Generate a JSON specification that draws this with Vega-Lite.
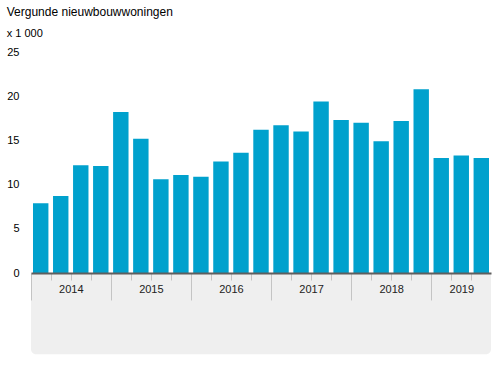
{
  "$schema": "https://vega.github.io/schema/vega-lite/v6.json",
  "width": 460,
  "height": 221,
  "padding": {"left": 6, "top": 6, "right": 5, "bottom": 5},
  "background": "white",
  "config": {"view": {"stroke": null}, "font": "Liberation Sans"},
  "title": {
    "text": "Vergunde nieuwbouwwoningen",
    "subtitle": "x 1 000",
    "anchor": "start",
    "frame": "bounds",
    "font": "Liberation Sans",
    "fontSize": 12,
    "fontWeight": "normal",
    "color": "#000000",
    "subtitleFont": "Liberation Sans",
    "subtitleFontSize": 11,
    "subtitleColor": "#000000",
    "subtitlePadding": 9,
    "offset": 6
  },
  "data": {
    "values": [
      {"q": "2014 Q1", "v": 7.9},
      {"q": "2014 Q2", "v": 8.7},
      {"q": "2014 Q3", "v": 12.2},
      {"q": "2014 Q4", "v": 12.1},
      {"q": "2015 Q1", "v": 18.2},
      {"q": "2015 Q2", "v": 15.2},
      {"q": "2015 Q3", "v": 10.6},
      {"q": "2015 Q4", "v": 11.1},
      {"q": "2016 Q1", "v": 10.9},
      {"q": "2016 Q2", "v": 12.6},
      {"q": "2016 Q3", "v": 13.6},
      {"q": "2016 Q4", "v": 16.2},
      {"q": "2017 Q1", "v": 16.7},
      {"q": "2017 Q2", "v": 16.0},
      {"q": "2017 Q3", "v": 19.4},
      {"q": "2017 Q4", "v": 17.3},
      {"q": "2018 Q1", "v": 17.0},
      {"q": "2018 Q2", "v": 14.9},
      {"q": "2018 Q3", "v": 17.2},
      {"q": "2018 Q4", "v": 20.8},
      {"q": "2019 Q1", "v": 13.0},
      {"q": "2019 Q2", "v": 13.3},
      {"q": "2019 Q3", "v": 13.0}
    ]
  },
  "layer": [
    {
      "data": {"values": [{}]},
      "mark": {"type": "rect", "color": "#efefef", "cornerRadiusBottomLeft": 5, "cornerRadiusBottomRight": 5, "clip": false},
      "encoding": {
        "y": {"datum": -9.2, "type": "quantitative", "scale": {"domain": [0, 25], "nice": false}},
        "y2": {"datum": 0},
        "x": {"value": 0},
        "x2": {"value": "width"}
      }
    },
    {
      "mark": {"type": "bar", "color": "#00a1cd"},
      "encoding": {
        "x": {
          "field": "q",
          "type": "ordinal",
          "sort": null,
          "scale": {"paddingInner": 0.23, "paddingOuter": 0.1},
          "axis": {
            "title": null,
            "zindex": 1,
            "domainColor": "#5e5e5e",
            "domainWidth": 2,
            "bandPosition": 0,
            "tickOffset": -2.3,
            "tickColor": "#c4c4c4",
            "tickSize": {"condition": {"test": "indexof(datum.value, 'Q1') >= 0", "value": 27}, "value": 7},
            "labelExpr": "(indexof(datum.value, 'Q3') >= 0 && datum.value != '2019 Q3') || datum.value == '2019 Q2' ? slice(datum.value, 0, 4) : ''",
            "labelOffset": {"condition": {"test": "datum.value == '2019 Q2'", "value": 2.3}, "value": -7.7},
            "labelAngle": 0,
            "labelFontSize": 11,
            "labelColor": "#222222",
            "labelPadding": 3
          }
        },
        "y": {
          "field": "v",
          "type": "quantitative",
          "scale": {"domain": [0, 25], "nice": false},
          "axis": {
            "title": null,
            "domain": false,
            "ticks": false,
            "values": [0, 5, 10, 15, 20, 25],
            "labelPadding": 12,
            "labelFontSize": 11,
            "labelColor": "#000000",
            "gridColor": "#e4e4e4"
          }
        }
      }
    }
  ]
}
